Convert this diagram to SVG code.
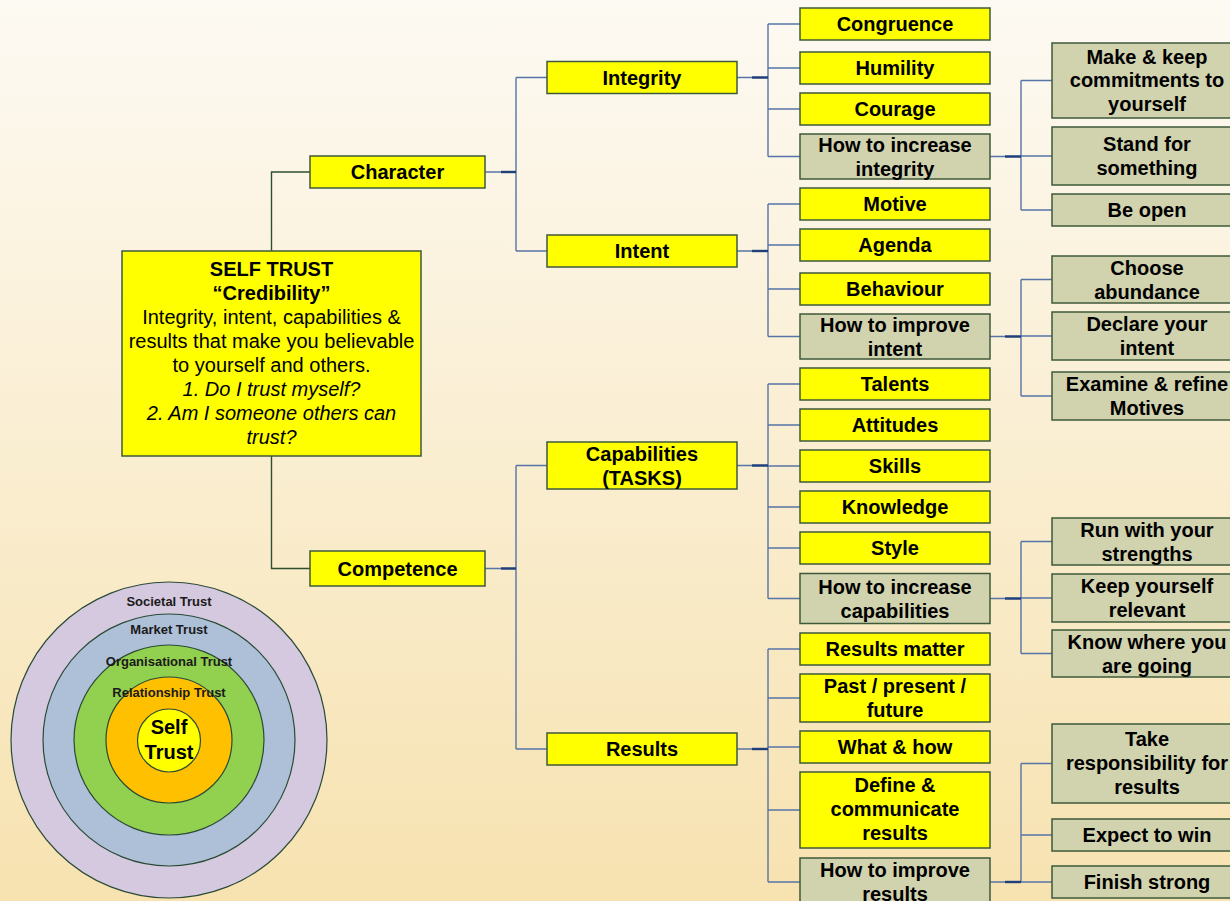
<svg xmlns="http://www.w3.org/2000/svg" width="1230" height="901" viewBox="0 0 1230 901">
<defs>
<linearGradient id="bg" x1="0" y1="0" x2="0" y2="1">
<stop offset="0" stop-color="#FDFAF3"/>
<stop offset="1" stop-color="#F7E2B0"/>
</linearGradient>
</defs>
<style>
.y{fill:#FFFF00;stroke:#3E5A3A;stroke-width:1.5}
.g{fill:#D1D2AE;stroke:#3E5A3A;stroke-width:1.5}
.t{font-family:"Liberation Sans",Arial,sans-serif;font-size:20px;font-weight:bold;fill:#000;text-anchor:middle}
.r{font-family:"Liberation Sans",Arial,sans-serif;font-size:20px;fill:#000;text-anchor:middle}
.ct{font-family:"Liberation Sans",Arial,sans-serif;font-size:13px;font-weight:bold;fill:#1a1a1a;text-anchor:middle}
.ln{fill:none;stroke:#5674A6;stroke-width:1.4}
.lk{fill:none;stroke:#1F3F7A;stroke-width:2.4}
.lg{fill:none;stroke:#2F4F2F;stroke-width:1.4}
.c{stroke:#2B4A36;stroke-width:1.2}
</style>
<rect x="0" y="0" width="1230" height="901" fill="url(#bg)"/>

<g id="connectors">
<path class="lg" d="M271.5,251 V172 H310 M271.5,456 V568.5 H310"/>
<!-- L1 to L2 -->
<path class="ln" d="M485,172 H516 M516,77.5 V251 M516,77.5 H547 M516,251 H547"/>
<path class="lk" d="M501,172 H516"/>
<path class="ln" d="M485,568.5 H516 M516,465.5 V749 M516,465.5 H547 M516,749 H547"/>
<path class="lk" d="M501,568.5 H516"/>
<!-- Integrity -->
<path class="ln" d="M737,77.5 H768 M768,24 V156.5 M768,24 H800 M768,68 H800 M768,109 H800 M768,156.5 H800"/>
<path class="lk" d="M752,77.5 H768"/>
<!-- Intent -->
<path class="ln" d="M737,251 H768 M768,204 V336.5 M768,204 H800 M768,245 H800 M768,289 H800 M768,336.5 H800"/>
<path class="lk" d="M752,251 H768"/>
<!-- Capabilities -->
<path class="ln" d="M737,465.5 H768 M768,384 V598.5 M768,384 H800 M768,425 H800 M768,466 H800 M768,507 H800 M768,548 H800 M768,598.5 H800"/>
<path class="lk" d="M752,465.5 H768"/>
<!-- Results -->
<path class="ln" d="M737,749 H768 M768,649 V882 M768,649 H800 M768,698 H800 M768,747 H800 M768,810 H800 M768,882 H800"/>
<path class="lk" d="M752,749 H768"/>
<!-- L4 -->
<path class="ln" d="M990,156.5 H1021 M1021,80.5 V210 M1021,80.5 H1052 M1021,156 H1052 M1021,210 H1052"/>
<path class="lk" d="M1005,156.5 H1021"/>
<path class="ln" d="M990,336.5 H1021 M1021,279.5 V396 M1021,279.5 H1052 M1021,336 H1052 M1021,396 H1052"/>
<path class="lk" d="M1005,336.5 H1021"/>
<path class="ln" d="M990,598.5 H1021 M1021,541.5 V653.5 M1021,541.5 H1052 M1021,598 H1052 M1021,653.5 H1052"/>
<path class="lk" d="M1005,598.5 H1021"/>
<path class="ln" d="M990,882 H1021 M1021,763.5 V882 M1021,763.5 H1052 M1021,835 H1052 M1021,882 H1052"/>
<path class="lk" d="M1005,882 H1021"/>
</g>

<g id="root">
<rect class="y" x="122" y="251" width="299" height="205"/>
<text class="t" x="271.5" y="276">SELF TRUST</text>
<text class="t" x="271.5" y="300">“Credibility”</text>
<text class="r" x="271.5" y="324">Integrity, intent, capabilities &amp;</text>
<text class="r" x="271.5" y="348">results that make you believable</text>
<text class="r" x="271.5" y="372">to yourself and others.</text>
<text class="r" x="271.5" y="396" font-style="italic">1. Do I trust myself?</text>
<text class="r" x="271.5" y="420" font-style="italic">2. Am I someone others can</text>
<text class="r" x="271.5" y="444" font-style="italic">trust?</text>
</g>

<g id="character"><rect class="y" x="310" y="156" width="175" height="32"/><text class="t" x="397.5" y="179">Character</text></g>
<g id="competence"><rect class="y" x="310" y="551" width="175" height="35"/><text class="t" x="397.5" y="575.5">Competence</text></g>

<g id="integrity"><rect class="y" x="547" y="61.5" width="190" height="32"/><text class="t" x="642" y="84.5">Integrity</text></g>
<g id="intent"><rect class="y" x="547" y="235" width="190" height="32"/><text class="t" x="642" y="258">Intent</text></g>
<g id="capabilities"><rect class="y" x="547" y="442" width="190" height="47"/><text class="t" x="642" y="460.5">Capabilities</text><text class="t" x="642" y="484.5">(TASKS)</text></g>
<g id="results"><rect class="y" x="547" y="733" width="190" height="32"/><text class="t" x="642" y="756">Results</text></g>

<g id="congruence"><rect class="y" x="800" y="8" width="190" height="32"/><text class="t" x="895" y="31">Congruence</text></g>
<g id="humility"><rect class="y" x="800" y="52" width="190" height="32"/><text class="t" x="895" y="75">Humility</text></g>
<g id="courage"><rect class="y" x="800" y="93" width="190" height="32"/><text class="t" x="895" y="116">Courage</text></g>
<g id="increase-integrity"><rect class="g" x="800" y="134" width="190" height="45"/><text class="t" x="895" y="151.5">How to increase</text><text class="t" x="895" y="175.5">integrity</text></g>
<g id="motive"><rect class="y" x="800" y="188" width="190" height="32"/><text class="t" x="895" y="211">Motive</text></g>
<g id="agenda"><rect class="y" x="800" y="229" width="190" height="32"/><text class="t" x="895" y="252">Agenda</text></g>
<g id="behaviour"><rect class="y" x="800" y="273" width="190" height="32"/><text class="t" x="895" y="296">Behaviour</text></g>
<g id="improve-intent"><rect class="g" x="800" y="314" width="190" height="45"/><text class="t" x="895" y="331.5">How to improve</text><text class="t" x="895" y="355.5">intent</text></g>
<g id="talents"><rect class="y" x="800" y="368" width="190" height="32"/><text class="t" x="895" y="391">Talents</text></g>
<g id="attitudes"><rect class="y" x="800" y="409" width="190" height="32"/><text class="t" x="895" y="432">Attitudes</text></g>
<g id="skills"><rect class="y" x="800" y="450" width="190" height="32"/><text class="t" x="895" y="473">Skills</text></g>
<g id="knowledge"><rect class="y" x="800" y="491" width="190" height="32"/><text class="t" x="895" y="514">Knowledge</text></g>
<g id="style"><rect class="y" x="800" y="532" width="190" height="32"/><text class="t" x="895" y="555">Style</text></g>
<g id="increase-capabilities"><rect class="g" x="800" y="573.5" width="190" height="50"/><text class="t" x="895" y="593.5">How to increase</text><text class="t" x="895" y="617.5">capabilities</text></g>
<g id="results-matter"><rect class="y" x="800" y="633" width="190" height="32"/><text class="t" x="895" y="656">Results matter</text></g>
<g id="past-present-future"><rect class="y" x="800" y="674" width="190" height="48"/><text class="t" x="895" y="693">Past / present /</text><text class="t" x="895" y="717">future</text></g>
<g id="what-how"><rect class="y" x="800" y="731" width="190" height="32"/><text class="t" x="895" y="754">What &amp; how</text></g>
<g id="define-communicate"><rect class="y" x="800" y="772" width="190" height="76"/><text class="t" x="895" y="792">Define &amp;</text><text class="t" x="895" y="816">communicate</text><text class="t" x="895" y="840">results</text></g>
<g id="improve-results"><rect class="g" x="800" y="858" width="190" height="50"/><text class="t" x="895" y="877">How to improve</text><text class="t" x="895" y="900.5">results</text></g>

<g id="make-keep"><rect class="g" x="1052" y="43" width="190" height="75"/><text class="t" x="1147" y="63.5">Make &amp; keep</text><text class="t" x="1147" y="87">commitments to</text><text class="t" x="1147" y="110.5">yourself</text></g>
<g id="stand-for"><rect class="g" x="1052" y="127" width="190" height="58"/><text class="t" x="1147" y="151">Stand for</text><text class="t" x="1147" y="174.5">something</text></g>
<g id="be-open"><rect class="g" x="1052" y="194" width="190" height="32"/><text class="t" x="1147" y="217">Be open</text></g>
<g id="choose-abundance"><rect class="g" x="1052" y="256" width="190" height="47"/><text class="t" x="1147" y="274.5">Choose</text><text class="t" x="1147" y="298.5">abundance</text></g>
<g id="declare-intent"><rect class="g" x="1052" y="312" width="190" height="48"/><text class="t" x="1147" y="331">Declare your</text><text class="t" x="1147" y="355">intent</text></g>
<g id="examine-refine"><rect class="g" x="1052" y="372" width="190" height="48"/><text class="t" x="1147" y="391">Examine &amp; refine</text><text class="t" x="1147" y="415">Motives</text></g>
<g id="run-strengths"><rect class="g" x="1052" y="518" width="190" height="47"/><text class="t" x="1147" y="536.5">Run with your</text><text class="t" x="1147" y="560.5">strengths</text></g>
<g id="keep-relevant"><rect class="g" x="1052" y="574" width="190" height="48"/><text class="t" x="1147" y="593">Keep yourself</text><text class="t" x="1147" y="617">relevant</text></g>
<g id="know-where"><rect class="g" x="1052" y="630" width="190" height="47"/><text class="t" x="1147" y="648.5">Know where you</text><text class="t" x="1147" y="672.5">are going</text></g>
<g id="take-responsibility"><rect class="g" x="1052" y="724" width="190" height="79"/><text class="t" x="1147" y="746">Take</text><text class="t" x="1147" y="770">responsibility for</text><text class="t" x="1147" y="794">results</text></g>
<g id="expect-win"><rect class="g" x="1052" y="819" width="190" height="32"/><text class="t" x="1147" y="842">Expect to win</text></g>
<g id="finish-strong"><rect class="g" x="1052" y="866" width="190" height="32"/><text class="t" x="1147" y="889">Finish strong</text></g>

<g id="trust-circles">
<circle class="c" cx="169" cy="740" r="158" fill="#D4C9DE"/>
<circle class="c" cx="169" cy="740" r="126" fill="#ADC0D8"/>
<circle class="c" cx="169" cy="740" r="95" fill="#92D050"/>
<circle class="c" cx="169" cy="740" r="63" fill="#FFC000"/>
<circle class="c" cx="169" cy="740.5" r="31.5" fill="#FFFF00"/>
<text class="ct" x="169" y="606">Societal Trust</text>
<text class="ct" x="169" y="634">Market Trust</text>
<text class="ct" x="169" y="666">Organisational Trust</text>
<text class="ct" x="169" y="697">Relationship Trust</text>
<text class="t" x="169" y="734">Self</text>
<text class="t" x="169" y="759">Trust</text>
</g>
</svg>
